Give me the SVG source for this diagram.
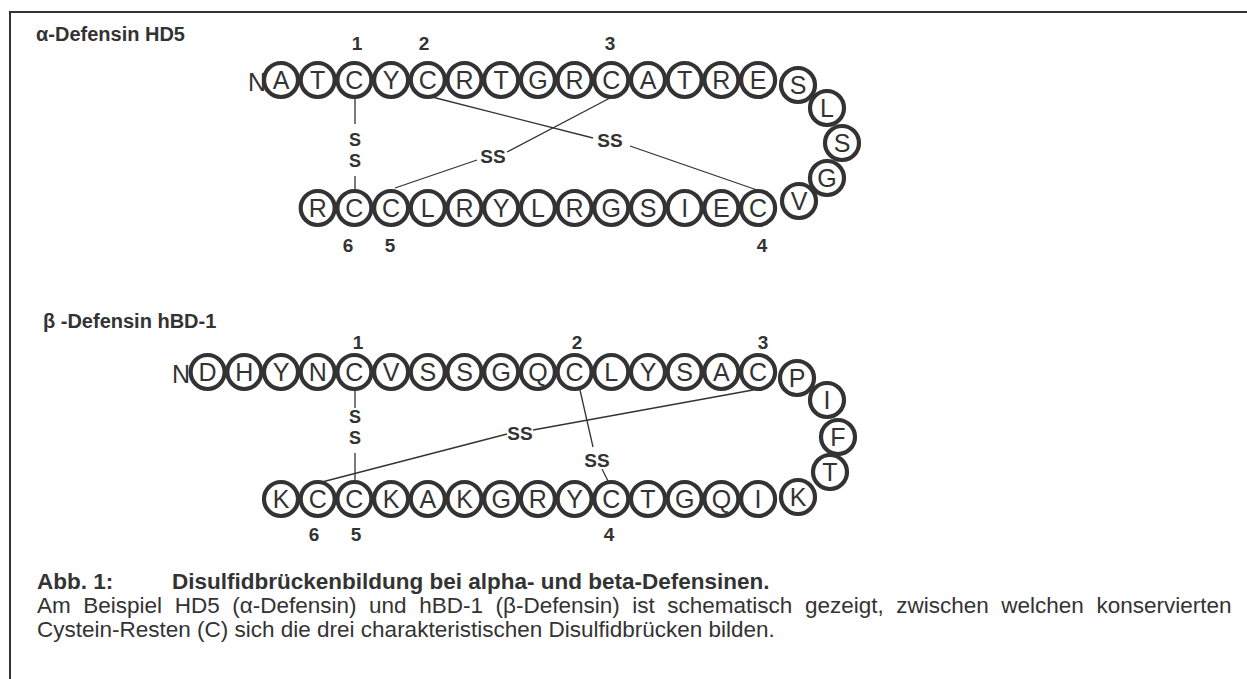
<svg xmlns="http://www.w3.org/2000/svg" width="1247" height="679" viewBox="0 0 1247 679">
<style>
.res circle{fill:#fff;stroke:#333;stroke-width:4.2}
.res text,.nt{font-family:"Liberation Sans",Arial,sans-serif;font-size:25px;fill:#333;text-anchor:middle}
.nt{text-anchor:start}
.lbl{font-family:"Liberation Sans",Arial,sans-serif;font-weight:bold;font-size:19px;fill:#333}
.ttl{font-size:20px}
.st{font-size:18px}
.num{text-anchor:middle}
.bond line{stroke:#333;stroke-width:1.3}
.cap{font-family:"Liberation Sans",Arial,sans-serif;font-size:22.5px;fill:#333}
.b{font-weight:bold}
</style>
<path d="M10,679 V12 H1247" stroke="#333" stroke-width="2" fill="none"/>

<text class="lbl ttl" x="36" y="41">α-Defensin HD5</text>
<text class="lbl ttl" x="43" y="328">β -Defensin hBD-1</text>

<text class="nt" x="248" y="91">N</text>
<text class="nt" x="172" y="383">N</text>

<g id="bonds" class="bond">
<line x1="355" y1="99" x2="355" y2="124"/>
<line x1="355" y1="176" x2="355" y2="189"/>
<line x1="432" y1="97" x2="593" y2="138"/>
<line x1="630" y1="146" x2="757" y2="190"/>
<line x1="610" y1="98" x2="507" y2="152"/>
<line x1="477" y1="160" x2="395" y2="188"/>
<line x1="355" y1="391" x2="355" y2="408"/>
<line x1="355" y1="453" x2="355" y2="480"/>
<line x1="753" y1="390" x2="533" y2="430"/>
<line x1="507" y1="434" x2="322" y2="482"/>
<line x1="580" y1="390" x2="593" y2="447"/>
<line x1="602" y1="469" x2="608" y2="481"/>
<text class="lbl st num" x="355" y="146">S</text>
<text class="lbl st num" x="355" y="167">S</text>
<text class="lbl num" x="610" y="147">SS</text>
<text class="lbl num" x="493" y="163">SS</text>
<text class="lbl st num" x="355" y="423">S</text>
<text class="lbl st num" x="355" y="444">S</text>
<text class="lbl num" x="520" y="440">SS</text>
<text class="lbl num" x="597" y="467">SS</text>
</g>

<g id="alpha">
<g id="a1" class="res"><circle cx="281" cy="80" r="17"/><text x="281" y="89">A</text></g>
<g id="a2" class="res"><circle cx="317.7" cy="80" r="17"/><text x="317.7" y="89">T</text></g>
<g id="a3" class="res"><circle cx="354.4" cy="80" r="17"/><text x="354.4" y="89">C</text></g>
<g id="a4" class="res"><circle cx="391.1" cy="80" r="17"/><text x="391.1" y="89">Y</text></g>
<g id="a5" class="res"><circle cx="427.8" cy="80" r="17"/><text x="427.8" y="89">C</text></g>
<g id="a6" class="res"><circle cx="464.5" cy="80" r="17"/><text x="464.5" y="89">R</text></g>
<g id="a7" class="res"><circle cx="501.2" cy="80" r="17"/><text x="501.2" y="89">T</text></g>
<g id="a8" class="res"><circle cx="537.9" cy="80" r="17"/><text x="537.9" y="89">G</text></g>
<g id="a9" class="res"><circle cx="574.6" cy="80" r="17"/><text x="574.6" y="89">R</text></g>
<g id="a10" class="res"><circle cx="611.3" cy="80" r="17"/><text x="611.3" y="89">C</text></g>
<g id="a11" class="res"><circle cx="648" cy="80" r="17"/><text x="648" y="89">A</text></g>
<g id="a12" class="res"><circle cx="684.7" cy="80" r="17"/><text x="684.7" y="89">T</text></g>
<g id="a13" class="res"><circle cx="721.4" cy="80" r="17"/><text x="721.4" y="89">R</text></g>
<g id="a14" class="res"><circle cx="758.1" cy="80" r="17"/><text x="758.1" y="89">E</text></g>
<g id="a15" class="res"><circle cx="798" cy="85" r="17"/><text x="798" y="94">S</text></g>
<g id="a16" class="res"><circle cx="827" cy="108" r="17"/><text x="827" y="117">L</text></g>
<g id="a17" class="res"><circle cx="842" cy="143" r="17"/><text x="842" y="152">S</text></g>
<g id="a18" class="res"><circle cx="827" cy="178" r="17"/><text x="827" y="187">G</text></g>
<g id="a19" class="res"><circle cx="799" cy="201" r="17"/><text x="799" y="210">V</text></g>
<g id="a20" class="res"><circle cx="758.1" cy="208" r="17"/><text x="758.1" y="217">C</text></g>
<g id="a21" class="res"><circle cx="721.4" cy="208" r="17"/><text x="721.4" y="217">E</text></g>
<g id="a22" class="res"><circle cx="684.7" cy="208" r="17"/><text x="684.7" y="217">I</text></g>
<g id="a23" class="res"><circle cx="648" cy="208" r="17"/><text x="648" y="217">S</text></g>
<g id="a24" class="res"><circle cx="611.3" cy="208" r="17"/><text x="611.3" y="217">G</text></g>
<g id="a25" class="res"><circle cx="574.6" cy="208" r="17"/><text x="574.6" y="217">R</text></g>
<g id="a26" class="res"><circle cx="537.9" cy="208" r="17"/><text x="537.9" y="217">L</text></g>
<g id="a27" class="res"><circle cx="501.2" cy="208" r="17"/><text x="501.2" y="217">Y</text></g>
<g id="a28" class="res"><circle cx="464.5" cy="208" r="17"/><text x="464.5" y="217">R</text></g>
<g id="a29" class="res"><circle cx="427.8" cy="208" r="17"/><text x="427.8" y="217">L</text></g>
<g id="a30" class="res"><circle cx="391.1" cy="208" r="17"/><text x="391.1" y="217">C</text></g>
<g id="a31" class="res"><circle cx="354.4" cy="208" r="17"/><text x="354.4" y="217">C</text></g>
<g id="a32" class="res"><circle cx="317.7" cy="208" r="17"/><text x="317.7" y="217">R</text></g>
</g>

<g id="beta">
<g id="b1" class="res"><circle cx="207.6" cy="372" r="17"/><text x="207.6" y="381">D</text></g>
<g id="b2" class="res"><circle cx="244.3" cy="372" r="17"/><text x="244.3" y="381">H</text></g>
<g id="b3" class="res"><circle cx="281" cy="372" r="17"/><text x="281" y="381">Y</text></g>
<g id="b4" class="res"><circle cx="317.7" cy="372" r="17"/><text x="317.7" y="381">N</text></g>
<g id="b5" class="res"><circle cx="354.4" cy="372" r="17"/><text x="354.4" y="381">C</text></g>
<g id="b6" class="res"><circle cx="391.1" cy="372" r="17"/><text x="391.1" y="381">V</text></g>
<g id="b7" class="res"><circle cx="427.8" cy="372" r="17"/><text x="427.8" y="381">S</text></g>
<g id="b8" class="res"><circle cx="464.5" cy="372" r="17"/><text x="464.5" y="381">S</text></g>
<g id="b9" class="res"><circle cx="501.2" cy="372" r="17"/><text x="501.2" y="381">G</text></g>
<g id="b10" class="res"><circle cx="537.9" cy="372" r="17"/><text x="537.9" y="381">Q</text></g>
<g id="b11" class="res"><circle cx="574.6" cy="372" r="17"/><text x="574.6" y="381">C</text></g>
<g id="b12" class="res"><circle cx="611.3" cy="372" r="17"/><text x="611.3" y="381">L</text></g>
<g id="b13" class="res"><circle cx="648" cy="372" r="17"/><text x="648" y="381">Y</text></g>
<g id="b14" class="res"><circle cx="684.7" cy="372" r="17"/><text x="684.7" y="381">S</text></g>
<g id="b15" class="res"><circle cx="721.4" cy="372" r="17"/><text x="721.4" y="381">A</text></g>
<g id="b16" class="res"><circle cx="758.1" cy="372" r="17"/><text x="758.1" y="381">C</text></g>
<g id="b17" class="res"><circle cx="797" cy="378" r="17"/><text x="797" y="387">P</text></g>
<g id="b18" class="res"><circle cx="827" cy="400" r="17"/><text x="827" y="409">I</text></g>
<g id="b19" class="res"><circle cx="838" cy="437" r="17"/><text x="838" y="446">F</text></g>
<g id="b20" class="res"><circle cx="830" cy="472" r="17"/><text x="830" y="481">T</text></g>
<g id="b21" class="res"><circle cx="798" cy="497" r="17"/><text x="798" y="506">K</text></g>
<g id="b22" class="res"><circle cx="758.1" cy="499" r="17"/><text x="758.1" y="508">I</text></g>
<g id="b23" class="res"><circle cx="721.4" cy="499" r="17"/><text x="721.4" y="508">Q</text></g>
<g id="b24" class="res"><circle cx="684.7" cy="499" r="17"/><text x="684.7" y="508">G</text></g>
<g id="b25" class="res"><circle cx="648" cy="499" r="17"/><text x="648" y="508">T</text></g>
<g id="b26" class="res"><circle cx="611.3" cy="499" r="17"/><text x="611.3" y="508">C</text></g>
<g id="b27" class="res"><circle cx="574.6" cy="499" r="17"/><text x="574.6" y="508">Y</text></g>
<g id="b28" class="res"><circle cx="537.9" cy="499" r="17"/><text x="537.9" y="508">R</text></g>
<g id="b29" class="res"><circle cx="501.2" cy="499" r="17"/><text x="501.2" y="508">G</text></g>
<g id="b30" class="res"><circle cx="464.5" cy="499" r="17"/><text x="464.5" y="508">K</text></g>
<g id="b31" class="res"><circle cx="427.8" cy="499" r="17"/><text x="427.8" y="508">A</text></g>
<g id="b32" class="res"><circle cx="391.1" cy="499" r="17"/><text x="391.1" y="508">K</text></g>
<g id="b33" class="res"><circle cx="354.4" cy="499" r="17"/><text x="354.4" y="508">C</text></g>
<g id="b34" class="res"><circle cx="317.7" cy="499" r="17"/><text x="317.7" y="508">C</text></g>
<g id="b35" class="res"><circle cx="281" cy="499" r="17"/><text x="281" y="508">K</text></g>
</g>

<g id="numbers" class="lbl num">
<text x="357" y="50">1</text>
<text x="424" y="50">2</text>
<text x="610" y="50">3</text>
<text x="348" y="252">6</text>
<text x="390" y="252">5</text>
<text x="762" y="252">4</text>
<text x="358" y="349">1</text>
<text x="577" y="349">2</text>
<text x="763" y="349">3</text>
<text x="314" y="541">6</text>
<text x="356" y="541">5</text>
<text x="609" y="541">4</text>
</g>

<g id="caption">
<text class="cap b" x="37" y="589">Abb. 1:</text>
<text class="cap b" x="172" y="589">Disulfidbrückenbildung bei alpha- und beta-Defensinen.</text>
<text class="cap" x="37" y="613" word-spacing="6.3">Am Beispiel HD5 (α-Defensin) und hBD-1 (β-Defensin) ist schematisch gezeigt, zwischen welchen konservierten</text>
<text class="cap" x="37" y="637">Cystein-Resten (C) sich die drei charakteristischen Disulfidbrücken bilden.</text>
</g>
</svg>
